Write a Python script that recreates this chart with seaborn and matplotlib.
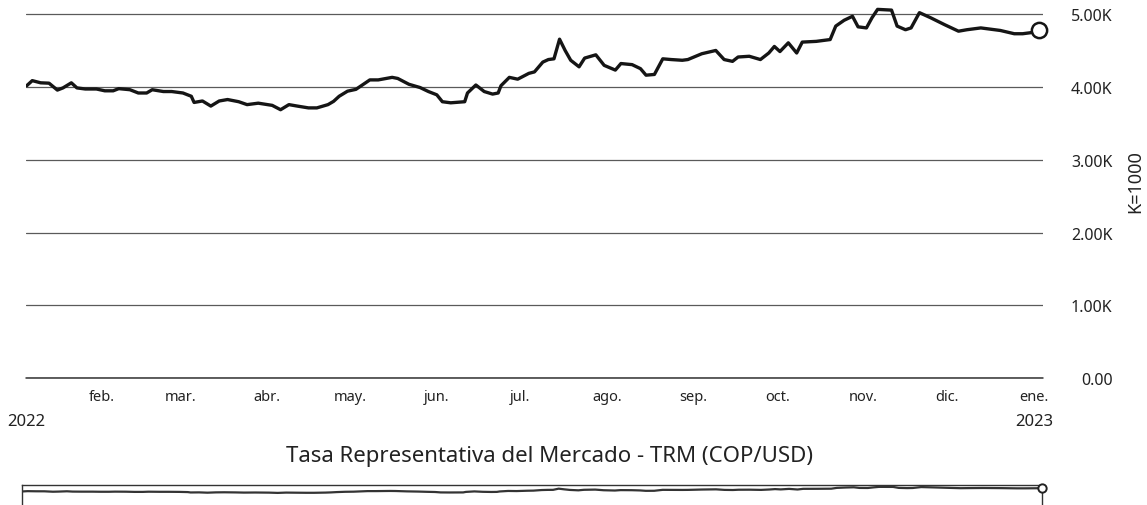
import pandas as pd
import matplotlib
matplotlib.use("Agg")
import matplotlib.pyplot as plt
import matplotlib.ticker as mticker
import seaborn as sns

# TRM values (COP per USD)
dates = [
    "2022-01-05", "2022-01-07", "2022-01-10", "2022-01-13", "2022-01-16", "2022-01-18",
    "2022-01-21", "2022-01-23", "2022-01-26", "2022-01-30", "2022-02-02", "2022-02-05",
    "2022-02-07", "2022-02-11", "2022-02-14", "2022-02-17", "2022-02-19", "2022-02-23",
    "2022-02-26", "2022-03-02", "2022-03-05", "2022-03-06", "2022-03-09", "2022-03-12",
    "2022-03-15", "2022-03-18", "2022-03-22", "2022-03-25", "2022-03-29", "2022-04-03",
    "2022-04-06", "2022-04-09", "2022-04-12", "2022-04-16", "2022-04-19", "2022-04-23",
    "2022-04-25", "2022-04-27", "2022-04-30", "2022-05-03", "2022-05-08", "2022-05-11",
    "2022-05-16", "2022-05-18", "2022-05-22", "2022-05-26", "2022-05-29", "2022-06-01",
    "2022-06-03", "2022-06-06", "2022-06-11", "2022-06-12", "2022-06-15", "2022-06-18",
    "2022-06-21", "2022-06-23", "2022-06-24", "2022-06-27", "2022-06-30", "2022-07-04",
    "2022-07-06", "2022-07-09", "2022-07-11", "2022-07-13", "2022-07-15", "2022-07-17",
    "2022-07-19", "2022-07-22", "2022-07-24", "2022-07-28", "2022-07-31", "2022-08-04",
    "2022-08-06", "2022-08-10", "2022-08-13", "2022-08-15", "2022-08-18", "2022-08-21",
    "2022-08-24", "2022-08-28", "2022-08-30", "2022-09-04", "2022-09-09", "2022-09-12",
    "2022-09-15", "2022-09-17", "2022-09-21", "2022-09-25", "2022-09-28", "2022-09-30",
    "2022-10-02", "2022-10-05", "2022-10-08", "2022-10-10", "2022-10-15", "2022-10-20",
    "2022-10-22", "2022-10-25", "2022-10-28", "2022-10-30", "2022-11-02", "2022-11-04",
    "2022-11-06", "2022-11-11", "2022-11-13", "2022-11-16", "2022-11-18", "2022-11-21",
    "2022-11-25", "2022-11-30", "2022-12-05", "2022-12-08", "2022-12-13", "2022-12-16",
    "2022-12-20", "2022-12-25", "2022-12-28", "2023-01-01", "2023-01-03",
]
trm = [
    4020, 4090, 4060, 4055, 3960, 3990,
    4060, 3990, 3975, 3975, 3950, 3950,
    3980, 3965, 3920, 3920, 3965, 3940,
    3940, 3920, 3875, 3790, 3810, 3740,
    3810, 3830, 3800, 3760, 3780, 3750,
    3690, 3760, 3740, 3715, 3715, 3760,
    3805, 3875, 3945, 3970, 4100, 4100,
    4135, 4120, 4040, 3995, 3940, 3895,
    3800, 3785, 3800, 3920, 4030, 3940,
    3905, 3920, 4020, 4135, 4110, 4190,
    4210, 4345, 4380, 4390, 4660, 4505,
    4370, 4280, 4400, 4445, 4300, 4235,
    4325, 4310, 4255, 4165, 4175, 4390,
    4380, 4370, 4380, 4460, 4505, 4380,
    4355, 4415, 4425, 4380, 4470, 4560,
    4490, 4610, 4470, 4620, 4630, 4655,
    4840, 4920, 4975, 4830, 4815, 4955,
    5070, 5060, 4840, 4790, 4815, 5025,
    4955, 4860, 4770, 4790, 4815, 4800,
    4780, 4735, 4735, 4755, 4790,
]

month_ticks = [
    "2022-02-01", "2022-03-01", "2022-04-01", "2022-05-01", "2022-06-01", "2022-07-01",
    "2022-08-01", "2022-09-01", "2022-10-01", "2022-11-01", "2022-12-01", "2023-01-01",
]
month_labels = [
    "feb.", "mar.", "abr.", "may.", "jun.", "jul.", "ago.", "sep.", "oct.",
    "nov.", "dic.", "ene.",
]
year_ticks = ["2022-01-05", "2023-01-01"]
year_labels = ["2022", "2023"]
y_ticks = [0, 1000, 2000, 3000, 4000, 5000]

title = "Tasa Representativa del Mercado - TRM (COP/USD)"
unit_label = "K=1000"

df = pd.DataFrame({"fecha": pd.to_datetime(dates), "trm": trm})

sns.set_theme(style="white")
plt.rcParams["font.family"] = ["Noto Sans", "DejaVu Sans"]

W, H = 1147, 506
fig = plt.figure(figsize=(W / 100, H / 100), dpi=100)
ink = "#222222"

# main plot area
ax = fig.add_axes([26 / W, 127 / H, 1017 / W, 374 / H])
sns.lineplot(data=df, x="fecha", y="trm", ax=ax, color="#151515", lw=2.4)
last = df.iloc[-1]
ax.plot(last["fecha"], last["trm"], "o", ms=11, mfc="white", mec="#151515",
        mew=1.8, clip_on=False, zorder=5)

ax.set_xlim(pd.Timestamp("2022-01-04 18:00"), pd.Timestamp("2023-01-04 07:00"))
ax.set_ylim(0, 5144)

ax.yaxis.tick_right()
ax.set_yticks(y_ticks)
ax.yaxis.set_major_formatter(
    mticker.FuncFormatter(lambda v, p: "0.00" if v == 0 else f"{v / 1000:.2f}K"))
ax.grid(axis="y", color="#5a5a5a", lw=0.9)
ax.grid(axis="x", visible=False)
ax.axhline(0, color="#333333", lw=1.1, clip_on=False)
ax.tick_params(axis="y", length=0, pad=50, labelsize=11.5, labelcolor=ink)
for lbl in ax.get_yticklabels():
    lbl.set_ha("right")

ax.set_xticks(pd.to_datetime(month_ticks))
ax.set_xticklabels(month_labels)
ax.tick_params(axis="x", length=0, pad=8, labelsize=10.5, labelcolor=ink)

# second row of the date axis: the years
for d, lab in zip(pd.to_datetime(year_ticks), year_labels):
    ax.annotate(lab, xy=(d, 0), xycoords=("data", "axes fraction"),
                xytext=(0, -43), textcoords="offset pixels",
                ha="center", va="center", fontsize=12, color=ink,
                annotation_clip=False)

ax.set_xlabel("")
ax.set_ylabel("")
sns.despine(ax=ax, left=True, right=True, top=True, bottom=True)

fig.text(1135 / W, 1 - 182 / H, unit_label, rotation=90, ha="center", va="center",
         fontsize=13, color=ink)
fig.text(550 / W, 1 - 457 / H, title, ha="center", va="center",
         fontsize=16, color=ink)

# zoom slider at the bottom
sax = fig.add_axes([22 / W, -4 / H, 1020 / W, 24 / H])
sns.lineplot(data=df, x="fecha", y="trm", ax=sax, color="#333333", lw=1.6)
sax.plot(last["fecha"], last["trm"], "o", ms=6, mfc="white", mec=ink,
         mew=1.4, clip_on=False, zorder=5)
sax.set_xlim(df["fecha"].min(), df["fecha"].max())
sax.set_ylim(0, 5500)
sax.set_xticks([])
sax.set_yticks([])
sax.set_xlabel("")
sax.set_ylabel("")
for s in sax.spines.values():
    s.set_visible(True)
    s.set_color("#333333")
    s.set_linewidth(1.0)

fig.savefig("out.png", dpi=100)
